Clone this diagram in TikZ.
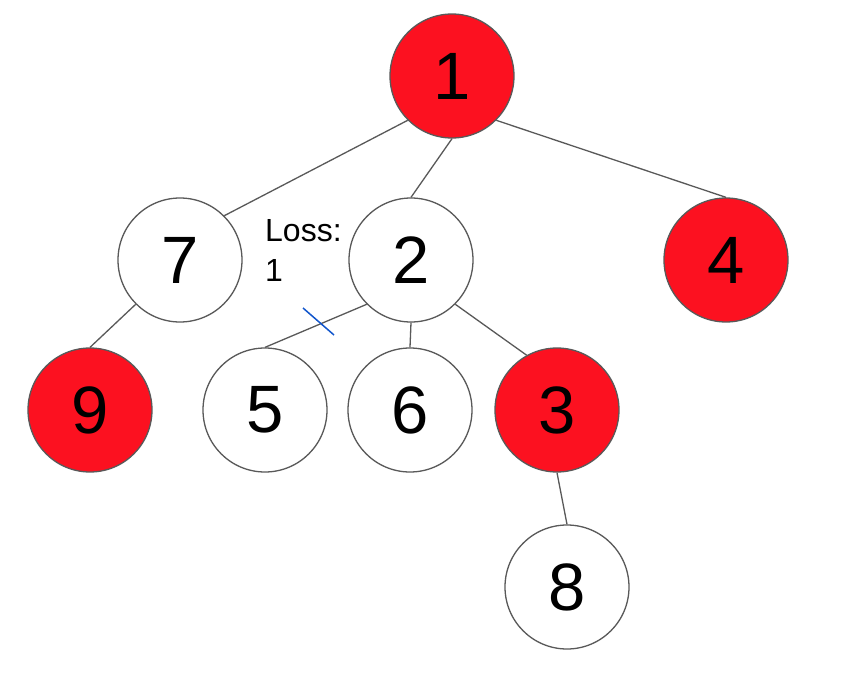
\documentclass[tikz,border=0pt]{standalone}
\usepackage{fontspec}
\setmainfont{Liberation Sans}
\definecolor{nodered}{RGB}{252,17,32}
\definecolor{edgegray}{RGB}{89,89,89}
\definecolor{cutblue}{RGB}{17,85,204}
\begin{document}
\begin{tikzpicture}[x=1pt,y=-1pt,
  vertex/.style={circle,draw=edgegray,line width=1.3pt,minimum size=124pt,inner sep=0pt,
    font=\fontsize{67}{67}\selectfont},
  hot/.style={vertex,fill=nodered},
  cold/.style={vertex,fill=white},
  edge/.style={draw=edgegray,line width=1.3pt},
  cut/.style={draw=cutblue,line width=1.5pt}]
\useasboundingbox (0,0) rectangle (852,696);
\fill[white] (0,0) rectangle (852,696);

% tree vertices
\node[hot]  (n1) at (452,76)  {1};
\node[cold] (n7) at (180,260) {7};
\node[cold] (n2) at (411,260) {2};
\node[hot]  (n4) at (726,260) {4};
\node[hot]  (n9) at (90,410)  {9};
\node[cold] (n5) at (265,410) {5};
\node[cold] (n6) at (410,410) {6};
\node[hot]  (n3) at (557,410) {3};
\node[cold] (n8) at (567,587) {8};

% tree edges
\draw[edge] (n1.225) -- (n7.45);
\draw[edge] (n1.south) -- (n2.north);
\draw[edge] (n1.315) -- (n4.north);
\draw[edge] (n7.225) -- (n9.north);
\draw[edge] (n2.225) -- (n5.north);
\draw[edge] (n2.south) -- (n6.north);
\draw[edge] (n2.315) -- (n3.119);
\draw[edge] (n3.south) -- (n8.north);

% removed edge marker and its label
\coordinate (cutA) at (303,308);
\coordinate (cutB) at (334,335);
\draw[cut] (cutA) -- (cutB);
\node[anchor=north west,inner sep=0pt,align=left,
  font=\fontsize{32}{40}\selectfont] (loss) at (265,219) {Loss:\\1};
\end{tikzpicture}
\end{document}
